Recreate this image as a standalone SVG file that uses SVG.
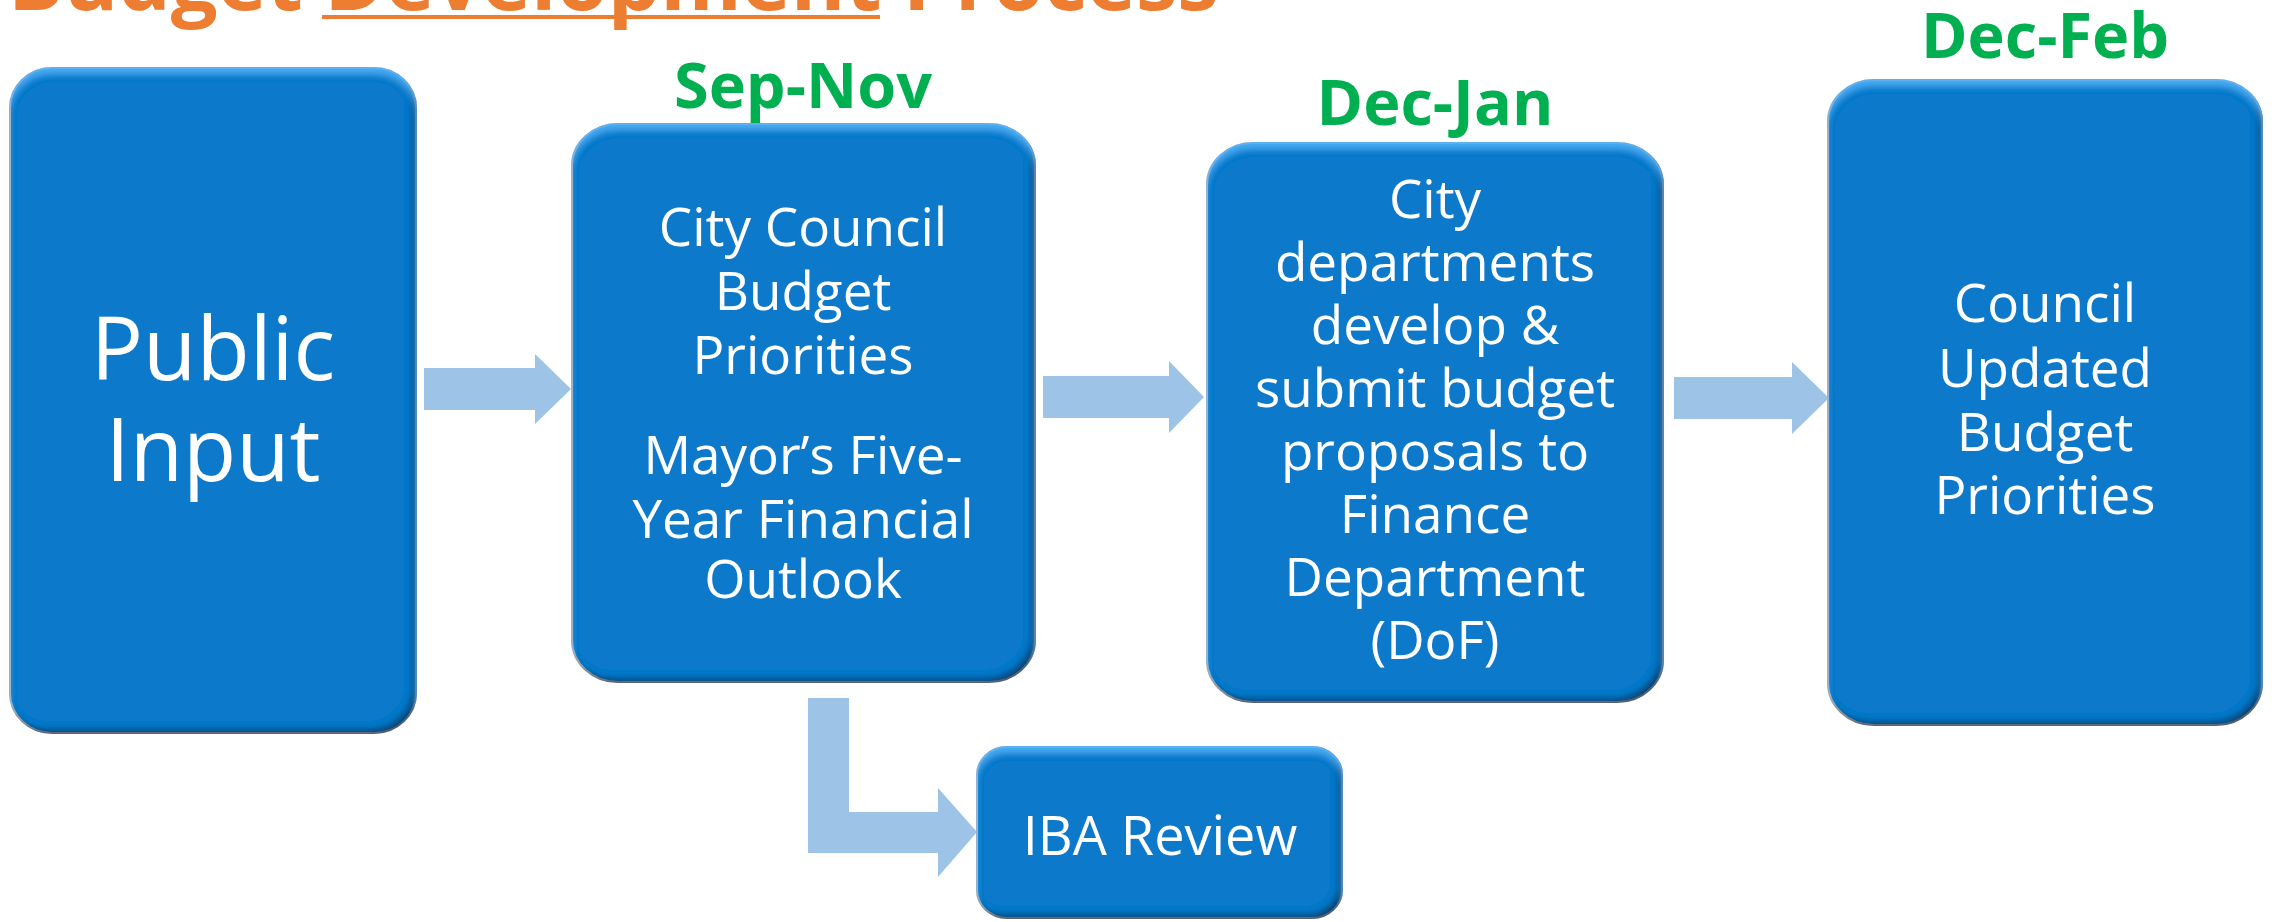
<svg xmlns="http://www.w3.org/2000/svg" width="2272" height="922" viewBox="0 0 2272 922">
<style>
.box{fill:#0779CB;stroke:#B5B5B5;stroke-width:2;filter:url(#bevel)}
.t{font-family:"Open Sans","Liberation Sans",sans-serif;fill:#FFFFFF;text-anchor:middle}
.lbl{font-family:"Open Sans","Liberation Sans",sans-serif;font-weight:700;fill:#00B050;font-size:63px;text-anchor:middle}
.arr{fill:#9DC3E6}
</style>
<defs>
<filter id="bevel" x="-5%" y="-5%" width="110%" height="110%">
<feGaussianBlur in="SourceAlpha" stdDeviation="3" result="b"/>
<feOffset in="b" dx="-5" dy="-5" result="o1"/>
<feComposite in="SourceAlpha" in2="o1" operator="out" result="e1"/>
<feFlood flood-color="#0B3459" flood-opacity="0.85"/>
<feComposite in2="e1" operator="in" result="dark"/>
<feOffset in="b" dx="0" dy="7" result="o2"/>
<feComposite in="SourceAlpha" in2="o2" operator="out" result="e2"/>
<feFlood flood-color="#48B0F7" flood-opacity="0.9"/>
<feComposite in2="e2" operator="in" result="light"/>
<feMerge><feMergeNode in="SourceGraphic"/><feMergeNode in="dark"/><feMergeNode in="light"/></feMerge>
</filter>
</defs>
<rect width="2272" height="922" fill="#FFFFFF"/>
<g id="title">
<text x="8" y="10" font-family="'Open Sans','Liberation Sans',sans-serif" font-weight="700" font-size="83" fill="#ED7D31">Budget Development Process</text>
<rect x="322" y="15" width="558" height="4" fill="#ED7D31"/>
</g>
<g id="connectors">
<polygon class="arr" points="424,368 535,368 535,354 571,389 535,424 535,410 424,410"/>
<polygon class="arr" points="1043,376 1169,376 1169,361 1204,397 1169,433 1169,418 1043,418"/>
<polygon class="arr" points="1674,377 1792,377 1792,362 1829,398 1792,434 1792,419 1674,419"/>
<polygon class="arr" points="808,698 849,698 849,812 938,812 938,788 977,832 938,877 938,853 808,853"/>
</g>
<g id="node-public">
<rect class="box" x="10" y="68" width="406" height="665" rx="42" ry="40"/>
<text class="t" font-size="87" x="213"><tspan x="213" y="380">Public</tspan><tspan x="213" y="481">Input</tspan></text>
</g>
<g id="label-sepnov"><text class="lbl" x="803" y="108">Sep-Nov</text></g>
<g id="node-council">
<rect class="box" x="572" y="124" width="463" height="558" rx="46" ry="42"/>
<text class="t" font-size="53"><tspan x="803" y="246">City Council</tspan><tspan x="803" y="310">Budget</tspan><tspan x="803" y="374">Priorities</tspan><tspan x="803" y="474">Mayor’s Five-</tspan><tspan x="803" y="538">Year Financial</tspan><tspan x="803" y="598">Outlook</tspan></text>
</g>
<g id="label-decjan"><text class="lbl" x="1435" y="125">Dec-Jan</text></g>
<g id="node-departments">
<rect class="box" x="1207" y="143" width="456" height="559" rx="46" ry="42"/>
<text class="t" font-size="53"><tspan x="1435" y="218">City</tspan><tspan x="1435" y="281">departments</tspan><tspan x="1435" y="344">develop &amp;</tspan><tspan x="1435" y="407">submit budget</tspan><tspan x="1435" y="470">proposals to</tspan><tspan x="1435" y="533">Finance</tspan><tspan x="1435" y="596">Department</tspan><tspan x="1435" y="659">(DoF)</tspan></text>
</g>
<g id="label-decfeb"><text class="lbl" x="2045" y="58">Dec-Feb</text></g>
<g id="node-updated">
<rect class="box" x="1828" y="80" width="434" height="645" rx="46" ry="42"/>
<text class="t" font-size="53"><tspan x="2045" y="322">Council</tspan><tspan x="2045" y="387">Updated</tspan><tspan x="2045" y="451">Budget</tspan><tspan x="2045" y="514">Priorities</tspan></text>
</g>
<g id="node-iba">
<rect class="box" x="977" y="747" width="365" height="171" rx="30" ry="28"/>
<text class="t" font-size="54" x="1160" y="855">IBA Review</text>
</g>
</svg>
